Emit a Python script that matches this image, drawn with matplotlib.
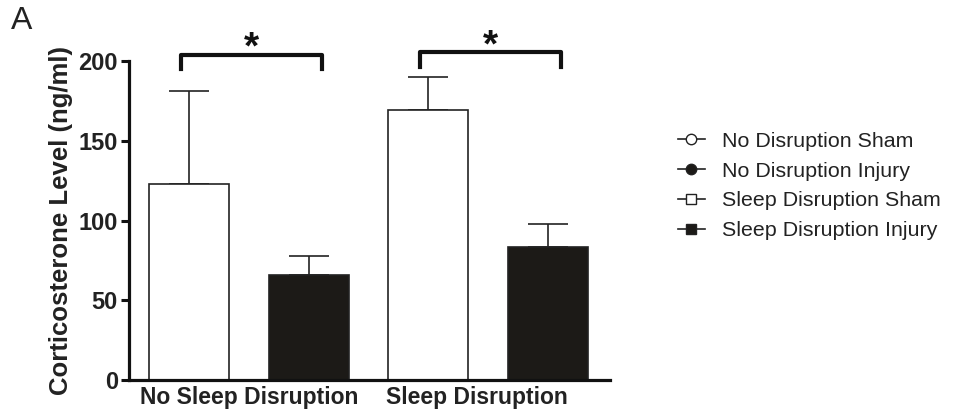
import matplotlib
matplotlib.use("Agg")
import matplotlib.pyplot as plt
from matplotlib.lines import Line2D

plt.rcParams["font.family"] = ["Liberation Sans", "DejaVu Sans"]

# values
groups = ["No Sleep Disruption", "Sleep Disruption"]
series = ["No Disruption Sham", "No Disruption Injury",
          "Sleep Disruption Sham", "Sleep Disruption Injury"]
means = [122.9, 65.8, 169.3, 83.4]
errors = [58.5, 11.9, 20.7, 14.4]
fills = ["white", "#1c1a17", "white", "#1c1a17"]
markers = ["o", "o", "s", "s"]
yticks = [0, 50, 100, 150, 200]
# significance brackets: (bar index left, bar index right)
pairs = [(0, 1), (2, 3)]

fig = plt.figure(figsize=(9.56, 4.17), dpi=100)
ax = fig.add_axes([0.1349, 0.0887, 0.503, 0.765])

pos = list(range(len(means)))
ax.bar(pos, means, width=0.669, color=fills, edgecolor="#222222",
       linewidth=1.2, zorder=2)
ax.errorbar(pos, means, yerr=[[0] * len(errors), errors], fmt="none",
            ecolor="#222222", elinewidth=1.2, capsize=14.5, capthick=1.2,
            zorder=1)

ax.set_xlim(-0.506, 3.519)
ax.set_ylim(0, 200)
ax.set_yticks(yticks)
ax.set_yticklabels([str(t) for t in yticks], fontsize=17, fontweight="bold",
                   color="#222222")
ax.set_xticks([0.5, 2.406])
ax.set_xticklabels(groups, fontsize=16.5, fontweight="bold", color="#222222")
ax.tick_params(axis="x", length=0, pad=4)
ax.tick_params(axis="y", length=6, width=2.2, pad=2, color="#111111")
for side in ("top", "right"):
    ax.spines[side].set_visible(False)
for side in ("left", "bottom"):
    ax.spines[side].set_linewidth(2.3)
    ax.spines[side].set_color("#111111")
ax.set_ylabel("Corticosterone Level (ng/ml)", fontsize=18.5, fontweight="bold",
              color="#222222", labelpad=4)

# brackets with asterisks
for (i, j), top in zip(pairs, [203.8, 205.5]):
    x0, x1 = i - 0.07, j + 0.11
    ax.plot([x0, x0, x1, x1], [top - 9, top, top, top - 9], color="#111111",
            lw=3, solid_joinstyle="round", clip_on=False)
    ax.text((x0 + x1) / 2, top - 7.5, "*", ha="center", va="bottom",
            fontsize=28, fontweight="bold", color="#111111")

handles = [Line2D([], [], color="#222222", lw=1.2, marker=m, markersize=7.5,
                  markerfacecolor=f, markeredgecolor="#222222")
           for m, f in zip(markers, fills)]
fig.legend(handles, series, loc="center left", bbox_to_anchor=(0.689, 0.554),
           frameon=False, fontsize=15.4, handlelength=1.25, handletextpad=0.8,
           labelspacing=0.5, labelcolor="#222222")

fig.text(0.011, 0.985, "A", fontsize=23, va="top", ha="left", color="#222222")

fig.savefig("out.png", dpi=100)
